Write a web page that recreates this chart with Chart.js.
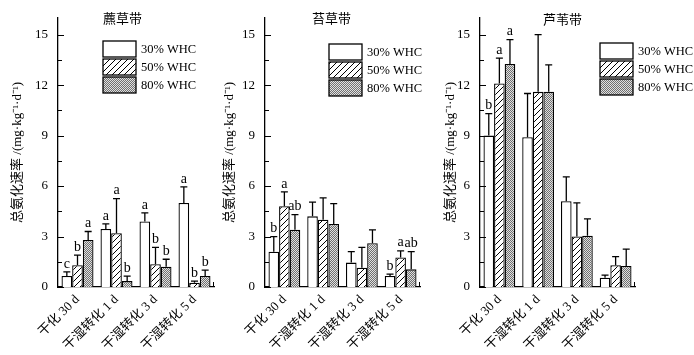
<!DOCTYPE html>
<html>
<head>
<meta charset="utf-8">
<script src="https://cdn.jsdelivr.net/npm/chart.js@4.4.1/dist/chart.umd.min.js"></script>
<style>
  body { margin:0; background:#fff; }
  #wrap { position:relative; width:694px; height:355px; overflow:hidden; background:#fff; }
  canvas { position:absolute; top:0; }
</style>
</head>
<body>
<div id="wrap">
  <canvas id="c1" width="230" height="355" style="left:1px"></canvas>
  <canvas id="c2" width="230" height="355" style="left:213px"></canvas>
  <canvas id="c3" width="260" height="355" style="left:434px"></canvas>
</div>
<script>
// 数据（均值 / 标准差 / 显著性字母）
const categories = ['干化 30 d', '干湿转化 1 d', '干湿转化 3 d', '干湿转化 5 d'];
const seriesNames = ['30% WHC', '50% WHC', '80% WHC'];
const yTitle = '总氨化速率 /(mg·kg⁻¹·d⁻¹)';
const yTicks = [0, 3, 6, 9, 12, 15];

// 藨草带
const p1Mean30 = [0.65, 3.45, 3.9, 5.0];
const p1Mean50 = [1.3, 3.2, 1.35, 0.25];
const p1Mean80 = [2.8, 0.35, 1.2, 0.65];
const p1Sd30 = [0.25, 0.3, 0.5, 0.95];
const p1Sd50 = [0.6, 2.05, 1.0, 0.1];
const p1Sd80 = [0.5, 0.3, 0.45, 0.35];
const p1Sig30 = ['c', 'a', 'a', 'a'];
const p1Sig50 = ['b', 'a', 'b', 'b'];
const p1Sig80 = ['a', 'b', 'b', 'b'];

// 苔草带
const p2Mean30 = [2.1, 4.2, 1.45, 0.65];
const p2Mean50 = [4.8, 4.0, 1.15, 1.75];
const p2Mean80 = [3.4, 3.75, 2.6, 1.05];
const p2Sd30 = [0.9, 0.85, 0.65, 0.12];
const p2Sd50 = [0.85, 1.3, 1.2, 0.4];
const p2Sd80 = [0.9, 1.2, 0.8, 1.05];
const p2Sig30 = ['b', '', '', 'b'];
const p2Sig50 = ['a', '', '', 'a'];
const p2Sig80 = ['ab', '', '', 'ab'];

// 芦苇带
const p3Mean30 = [9.0, 8.9, 5.1, 0.55];
const p3Mean50 = [12.1, 11.6, 3.0, 1.3];
const p3Mean80 = [13.25, 11.6, 3.05, 1.25];
const p3Sd30 = [1.3, 2.6, 1.45, 0.15];
const p3Sd50 = [1.5, 3.4, 2.0, 0.5];
const p3Sd80 = [1.45, 1.6, 1.0, 1.0];
const p3Sig30 = ['b', '', '', ''];
const p3Sig50 = ['a', '', '', ''];
const p3Sig80 = ['a', '', '', ''];

const FONT = "'Liberation Serif', 'Noto Sans CJK SC', serif";

function hatchPattern(){
  const c = document.createElement('canvas'); c.width = 6; c.height = 6;
  const g = c.getContext('2d');
  g.fillStyle = '#fff'; g.fillRect(0,0,6,6);
  g.strokeStyle = '#000'; g.lineWidth = 1;
  g.beginPath();
  g.moveTo(0,6); g.lineTo(6,0);
  g.moveTo(-3,3); g.lineTo(3,-3);
  g.moveTo(3,9); g.lineTo(9,3);
  g.stroke();
  return g.createPattern(c, 'repeat');
}
function dotPattern(){
  const c = document.createElement('canvas'); c.width = 2; c.height = 2;
  const g = c.getContext('2d');
  g.fillStyle = '#e0e0e0'; g.fillRect(0,0,2,2);
  g.fillStyle = '#707070'; g.fillRect(0,0,1,1); g.fillRect(1,1,1,1);
  return g.createPattern(c, 'repeat');
}
const fills = ['#ffffff', hatchPattern(), dotPattern()];

const overlay = {
  id: 'overlay',
  afterDatasetsDraw(chart, args, opt){
    const ctx = chart.ctx, y = chart.scales.y, x = chart.scales.x;
    ctx.save();
    ctx.strokeStyle = '#000'; ctx.fillStyle = '#000'; ctx.lineWidth = 1.3;
    // 误差线与字母
    chart.data.datasets.forEach((ds, i) => {
      chart.getDatasetMeta(i).data.forEach((el, j) => {
        const top = y.getPixelForValue(ds.data[j] + ds.sd[j]);
        ctx.beginPath();
        ctx.moveTo(el.x, el.y); ctx.lineTo(el.x, top);
        ctx.moveTo(el.x - 3.5, top); ctx.lineTo(el.x + 3.5, top);
        ctx.stroke();
        if (ds.sig[j]) {
          ctx.font = '14px ' + FONT; ctx.textAlign = 'center'; ctx.textBaseline = 'bottom';
          ctx.fillText(ds.sig[j], el.x, top - 1);
        }
      });
    });
    // 向内刻度
    const ax = y.right;
    ctx.lineWidth = 1;
    y.ticks.forEach(t => {
      const py = Math.round(y.getPixelForValue(t.value)) + 0.5;
      const len = yTicks.includes(t.value) ? 6 : 4;
      ctx.beginPath(); ctx.moveTo(ax, py); ctx.lineTo(ax + len, py); ctx.stroke();
    });
    ctx.beginPath(); ctx.moveTo(x.right - 0.5, x.top); ctx.lineTo(x.right - 0.5, x.top - 5); ctx.stroke();
    // 标题
    ctx.font = '13px ' + FONT; ctx.textAlign = 'left'; ctx.textBaseline = 'middle';
    ctx.fillText(opt.title, opt.titleX, opt.titleY);
    // 图例
    chart.data.datasets.forEach((ds, i) => {
      const bx = opt.legX, by = opt.legY + i * 18;
      ctx.fillStyle = ds.backgroundColor; ctx.fillRect(bx, by, 33, 16);
      ctx.lineWidth = 1.3; ctx.strokeRect(bx, by, 33, 16);
      ctx.fillStyle = '#000'; ctx.font = '12.5px ' + FONT;
      ctx.fillText(ds.label, bx + 38, by + 8.5);
    });
    ctx.restore();
  }
};

function makePanel(id, means, sds, sigs, p){
  new Chart(document.getElementById(id), {
    type: 'bar',
    data: {
      labels: categories,
      datasets: seriesNames.map((n, i) => ({
        label: n, data: means[i], sd: sds[i], sig: sigs[i],
        backgroundColor: fills[i], borderColor: '#000', borderWidth: 1.3,
        categoryPercentage: 0.82, barPercentage: 1.0
      }))
    },
    options: {
      responsive: false, animation: false,
      layout: { padding: { top: 12, right: p.right, left: 0, bottom: 0 } },
      plugins: { legend: { display: false }, tooltip: { enabled: false },
        overlay: { title: p.title, titleX: p.titleX, titleY: p.titleY, legX: p.legX, legY: p.legY } },
      scales: {
        x: {
          grid: { display: false, drawTicks: false },
          border: { color: '#000', width: 1.3 },
          ticks: { color: '#000', font: { family: FONT, size: 13 }, maxRotation: 45, minRotation: 45, padding: 5, autoSkip: false },
          afterFit: s => { s.height = 68; }
        },
        y: {
          min: 0, max: 16,
          afterBuildTicks: s => { s.ticks = s.ticks.filter(t => t.value <= 15.001); },
          grid: { display: false, drawTicks: false },
          border: { color: '#000', width: 1.3 },
          ticks: { stepSize: 1.5, color: '#000', font: { family: FONT, size: 13 }, padding: 10,
            callback: v => yTicks.includes(v) ? v : '' },
          title: { display: true, text: yTitle, color: '#000', font: { family: FONT, size: 13 }, padding: { top: 9, bottom: 0 } },
          afterFit: s => { s.width = p.axisW; }
        }
      }
    },
    plugins: [overlay]
  });
}

makePanel('c1', [p1Mean30, p1Mean50, p1Mean80], [p1Sd30, p1Sd50, p1Sd80], [p1Sig30, p1Sig50, p1Sig80],
  { axisW: 57, right: 17, title: '藨草带', titleX: 102, titleY: 20, legX: 102, legY: 41 });
makePanel('c2', [p2Mean30, p2Mean50, p2Mean80], [p2Sd30, p2Sd50, p2Sd80], [p2Sig30, p2Sig50, p2Sig80],
  { axisW: 52, right: 23, title: '苔草带', titleX: 99, titleY: 20, legX: 116, legY: 44 });
makePanel('c3', [p3Mean30, p3Mean50, p3Mean80], [p3Sd30, p3Sd50, p3Sd80], [p3Sig30, p3Sig50, p3Sig80],
  { axisW: 46, right: 59, title: '芦苇带', titleX: 109, titleY: 21, legX: 166, legY: 43 });
</script>
</body>
</html>
